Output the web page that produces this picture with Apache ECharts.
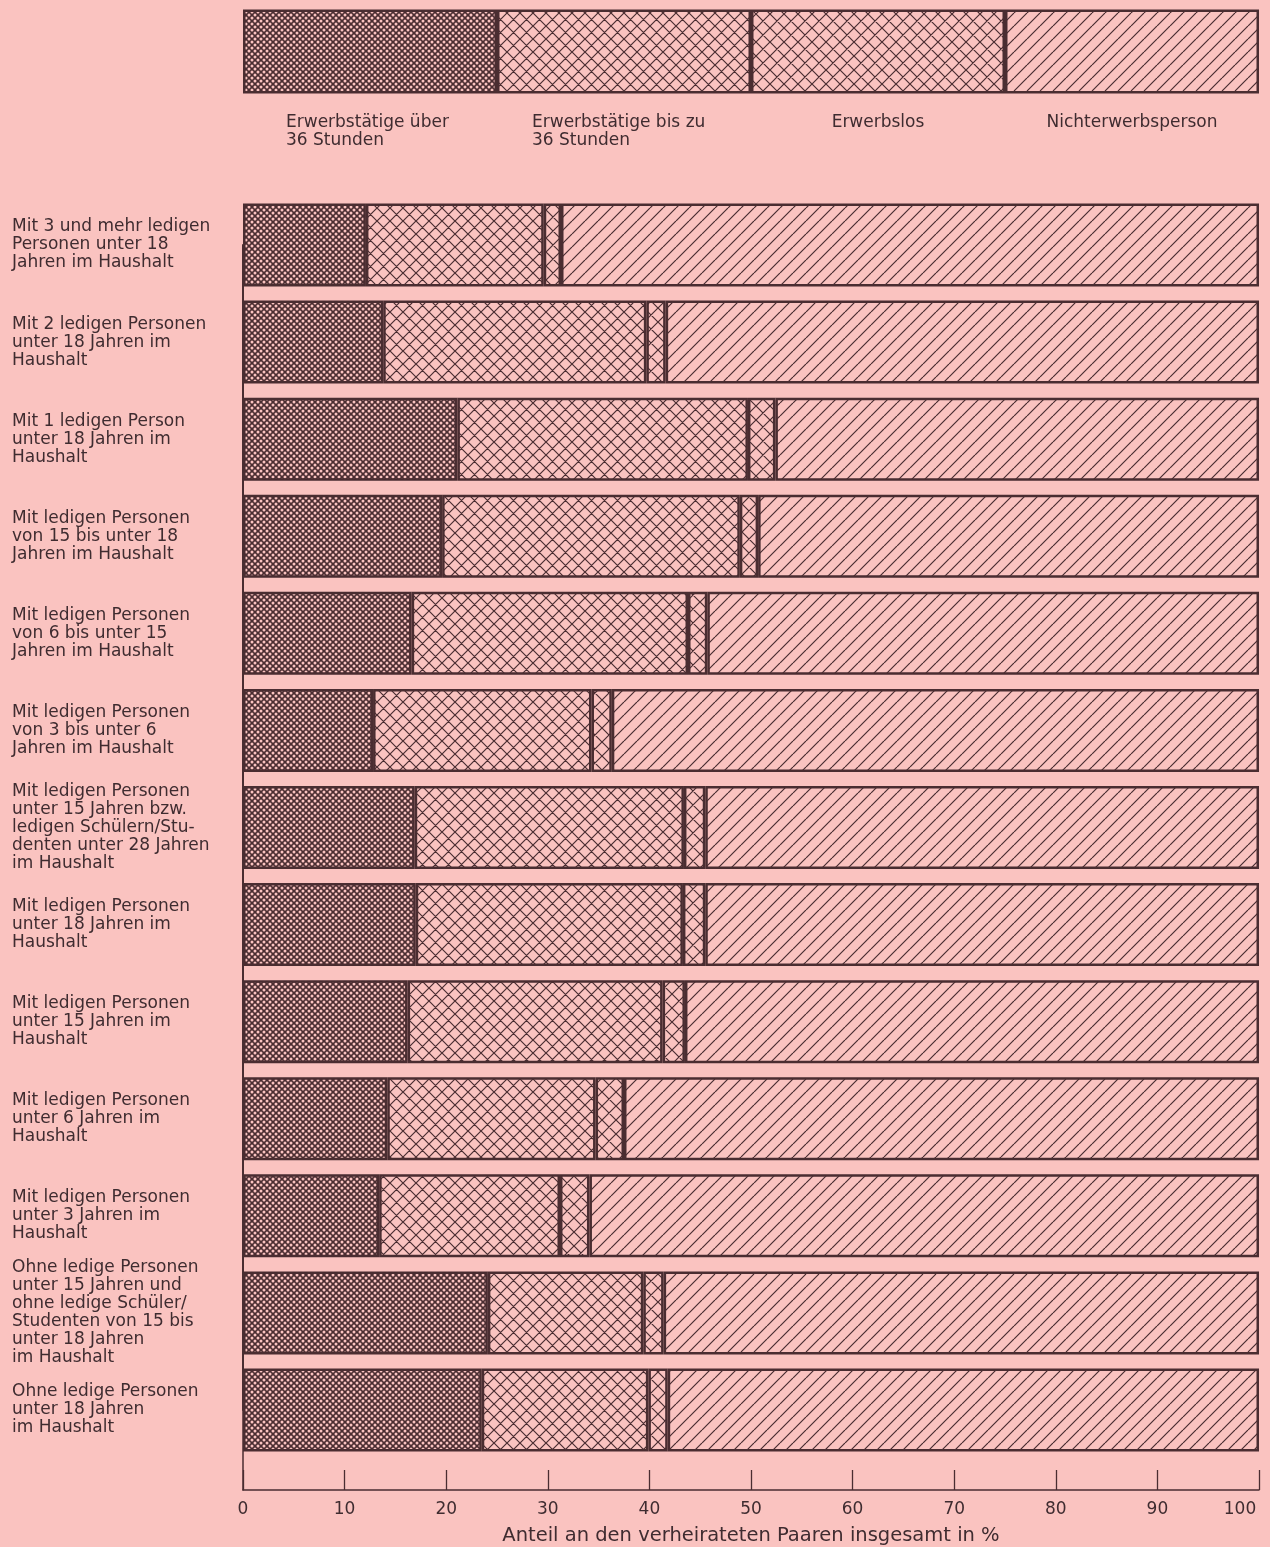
<!DOCTYPE html>
<html>
<head>
<meta charset="utf-8">
<script src="https://cdn.jsdelivr.net/npm/echarts@6/dist/echarts.min.js"></script>
<style>
html,body{margin:0;padding:0;background:#fac3c0;}
#chart{width:1270px;height:1547px;}
</style>
</head>
<body>
<div id="chart"></div>
<script>
const categories = [
  'Mit 3 und mehr ledigen\nPersonen unter 18\nJahren im Haushalt',
  'Mit 2 ledigen Personen\nunter 18 Jahren im\nHaushalt',
  'Mit 1 ledigen Person\nunter 18 Jahren im\nHaushalt',
  'Mit ledigen Personen\nvon 15 bis unter 18\nJahren im Haushalt',
  'Mit ledigen Personen\nvon 6 bis unter 15\nJahren im Haushalt',
  'Mit ledigen Personen\nvon 3 bis unter 6\nJahren im Haushalt',
  'Mit ledigen Personen\nunter 15 Jahren bzw.\nledigen Schülern/Stu-\ndenten unter 28 Jahren\nim Haushalt',
  'Mit ledigen Personen\nunter 18 Jahren im\nHaushalt',
  'Mit ledigen Personen\nunter 15 Jahren im\nHaushalt',
  'Mit ledigen Personen\nunter 6 Jahren im\nHaushalt',
  'Mit ledigen Personen\nunter 3 Jahren im\nHaushalt',
  'Ohne ledige Personen\nunter 15 Jahren und\nohne ledige Schüler/\nStudenten von 15 bis\nunter 18 Jahren\nim Haushalt',
  'Ohne ledige Personen\nunter 18 Jahren\nim Haushalt'
];
const fullTime   = [12.1, 13.8, 21.1, 19.6, 16.6, 12.8, 16.9, 17.0, 16.2, 14.2, 13.4, 24.1, 23.5];
const partTime   = [17.5, 25.9, 28.6, 29.3, 27.2, 21.5, 26.5, 26.3, 25.1, 20.5, 17.8, 15.3, 16.4];
const unemployed = [1.7, 1.9, 2.7, 1.8, 1.9, 2.0, 2.1, 2.2, 2.2, 2.8, 2.9, 2.0, 1.9];
const inactive   = [68.7, 58.4, 47.6, 49.3, 54.3, 63.7, 54.5, 54.5, 56.5, 62.5, 65.9, 58.6, 58.2];
const seriesNames = ['Erwerbstätige über 36 Stunden', 'Erwerbstätige bis zu 36 Stunden', 'Erwerbslos', 'Nichterwerbsperson'];
const legendLabels = ['Erwerbstätige über\n36 Stunden', 'Erwerbstätige bis zu\n36 Stunden', 'Erwerbslos', 'Nichterwerbsperson'];
const legendShares = [25, 25, 25, 25];
const axisMin = 0, axisMax = 100, axisStep = 10;
const axisTitle = 'Anteil an den verheirateten Paaren insgesamt in %';

const BG = '#fac3c0';
const DARK = '#4a2d31';
const TEXT = '#3f2c30';
const FONT = "'DejaVu Sans', sans-serif";

function tile(kind) {
  const c = document.createElement('canvas');
  let s;
  if (kind === 'dots') s = 6;
  else if (kind === 'cross1') s = 13;
  else if (kind === 'cross2') s = 14;
  else s = 13;
  c.width = s; c.height = s;
  const ctx = c.getContext('2d');
  if (kind === 'dots') {
    ctx.fillStyle = DARK;
    ctx.fillRect(0, 0, s, s);
    ctx.fillStyle = BG;
    const pts = [[0,0],[s,0],[0,s],[s,s],[s/2,s/2]];
    pts.forEach(p => { ctx.beginPath(); ctx.arc(p[0], p[1], 1.5, 0, Math.PI*2); ctx.fill(); });
    return c;
  }
  ctx.fillStyle = BG;
  ctx.fillRect(0, 0, s, s);
  ctx.strokeStyle = DARK;
  ctx.lineWidth = 1.2;
  ctx.beginPath();
  for (let k = -1; k <= 1; k++) {
    if (kind !== 'hatch') { ctx.moveTo(k*s, 0); ctx.lineTo(k*s + s, s); }
    ctx.moveTo(k*s + s, 0); ctx.lineTo(k*s, s);
  }
  ctx.stroke();
  return c;
}
const patterns = ['dots', 'cross1', 'cross2', 'hatch'].map(k => ({ image: tile(k), repeat: 'repeat' }));
const mainData = [fullTime, partTime, unemployed, inactive];

const series = [];
mainData.forEach((arr, i) => {
  series.push({
    name: seriesNames[i], type: 'bar', stack: 'main', clip: false,
    xAxisIndex: 0, yAxisIndex: 0, barWidth: 83,
    itemStyle: { color: patterns[i], borderColor: DARK, borderWidth: 2.5 },
    data: arr
  });
});
const legOffsets = [[-84, 0], [-92, 0], [0, 0], [0, 0]];
legendShares.forEach((v, i) => {
  series.push({
    name: seriesNames[i] + ' (Legende)', type: 'bar', stack: 'leg',
    xAxisIndex: 2, yAxisIndex: 2, barWidth: 84,
    itemStyle: { color: patterns[i], borderColor: DARK, borderWidth: 2.5 },
    label: {
      show: true, position: 'bottom', distance: 20,
      formatter: legendLabels[i],
      align: i < 2 ? 'left' : 'center',
      offset: legOffsets[i],
      color: TEXT, fontFamily: FONT, fontSize: 17, lineHeight: 18
    },
    data: [v]
  });
});

const chart = echarts.init(document.getElementById('chart'), null, { renderer: 'canvas' });
chart.setOption({
  backgroundColor: BG,
  animation: false,
  grid: [
    { left: 243, right: 11, top: 245, height: 1165 },
    { left: 243, right: 11, top: 1410, height: 82.5 },
    { left: 243, right: 11, top: 9.5, height: 84 }
  ],
  xAxis: [
    { gridIndex: 0, type: 'value', min: axisMin, max: axisMax, show: false },
    { gridIndex: 1, type: 'value', min: axisMin, max: axisMax, interval: axisStep,
      axisLine: { show: true, lineStyle: { color: DARK, width: 1.5 } },
      axisTick: { show: true, inside: true, length: 20, lineStyle: { color: DARK, width: 1.3 } },
      axisLabel: {
        color: TEXT, fontFamily: FONT, fontSize: 17, margin: 11,
        formatter: v => v === axisMax ? '{end|' + v + '}' : String(v),
        rich: { end: { color: TEXT, fontFamily: FONT, fontSize: 17, padding: [0, 38, 0, 0] } }
      },
      splitLine: { show: false },
      name: axisTitle, nameLocation: 'middle', nameGap: 36,
      nameTextStyle: { color: TEXT, fontFamily: FONT, fontSize: 19.5 } },
    { gridIndex: 2, type: 'value', min: 0, max: 100, show: false }
  ],
  yAxis: [
    { gridIndex: 0, type: 'category', data: categories, inverse: true, boundaryGap: false,
      axisLine: { show: true, lineStyle: { color: DARK, width: 2 } },
      axisTick: { show: false },
      axisLabel: { align: 'left', margin: 231, color: TEXT, fontFamily: FONT, fontSize: 17, lineHeight: 18 } },
    { gridIndex: 1, type: 'value', min: 0, max: 1,
      axisLine: { show: true, lineStyle: { color: DARK, width: 1.5 } },
      axisTick: { show: false }, axisLabel: { show: false }, splitLine: { show: false } },
    { gridIndex: 2, type: 'category', data: ['Legende'], show: false }
  ],
  series: series
});
</script>
</body>
</html>
